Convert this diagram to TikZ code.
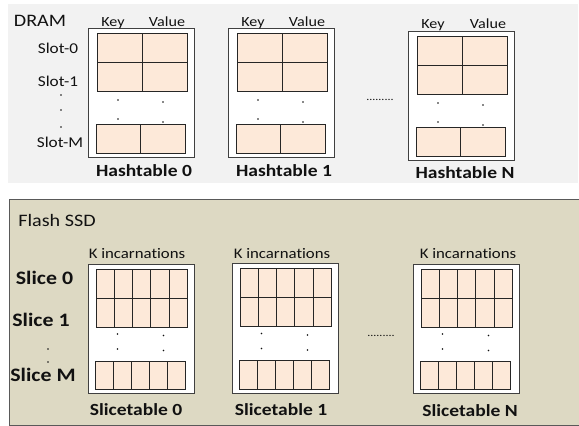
\documentclass[tikz,border=0pt]{standalone}
\usepackage{fontspec}
\setmainfont{Carlito}[FakeStretch=1.15, Ligatures=NoCommon]
\definecolor{dramfill}{HTML}{F2F2F2}
\definecolor{flashfill}{HTML}{DDD9C3}
\definecolor{cellfill}{HTML}{FDE9D9}
\definecolor{boxline}{HTML}{404040}
\definecolor{flashline}{HTML}{595959}
\definecolor{txt}{HTML}{111111}
\tikzset{
  tbox/.style={draw=boxline, fill=white, line width=0.9pt},
  cell/.style={draw=black!85, fill=cellfill, line width=0.9pt},
  cellline/.style={draw=black!85, line width=0.9pt},
  smalltxt/.style={font=\fontsize{14}{15}\selectfont, text=txt, inner sep=0pt, anchor=base},
  slottxt/.style={font=\fontsize{15}{16}\selectfont, text=txt, inner sep=0pt, anchor=base},
  kintxt/.style={font=\fontsize{14.6}{16}\selectfont, text=txt, inner sep=0pt, anchor=base},
  headtxt/.style={font=\fontsize{17.5}{18}\selectfont, text=txt, inner sep=0pt, anchor=base},
  titletxt/.style={font=\bfseries\fontsize{17}{19}\selectfont, text=txt, inner sep=0pt, anchor=base},
  slicetxt/.style={font=\bfseries\fontsize{19}{20}\selectfont, text=txt, inner sep=0pt, anchor=base},
  elltxt/.style={font=\fontsize{10.5}{11}\selectfont, text=txt, inner sep=0pt, anchor=base},
}
\newcommand\hashtab[2]{%
  \begin{scope}[shift={(#1,#2)}]
    \draw[tbox] (0,0) rectangle (106,129);
    \draw[cell] (9,5) rectangle (99,63);
    \draw[cellline] (54,5) -- (54,63) (9,34) -- (99,34);
    \draw[cell] (8,96) rectangle (97,125);
    \draw[cellline] (52,96) -- (52,125);
    \fill[txt] (30,72) circle[radius=0.9pt] (30,91) circle[radius=0.9pt]
               (75,74) circle[radius=0.9pt] (75,94) circle[radius=0.9pt];
  \end{scope}}
\newcommand\slicetab[2]{%
  \begin{scope}[shift={(#1,#2)}]
    \draw[tbox] (0,0) rectangle (106.5,129.5);
    \draw[cell] (8,5) rectangle (99.5,63);
    \draw[cellline] (8,34) -- (99.5,34);
    \foreach \i in {1,...,4} \draw[cellline] ({8+\i*91.5/5},5) -- ({8+\i*91.5/5},63);
    \draw[cell] (7,97) rectangle (97.5,125.5);
    \foreach \i in {1,...,4} \draw[cellline] ({7+\i*90.5/5},97) -- ({7+\i*90.5/5},125.5);
    \fill[txt] (29.5,70) circle[radius=0.9pt] (29.5,85) circle[radius=0.9pt]
               (75.5,71.5) circle[radius=0.9pt] (75.5,86.5) circle[radius=0.9pt];
  \end{scope}}
\begin{document}
\begin{tikzpicture}[x=1pt,y=-1pt]
\useasboundingbox (0,0) rectangle (579,426);
\clip (0,0) rectangle (579,426);
\fill[white] (0,0) rectangle (579,426);
% DRAM region
\fill[dramfill] (8,4) rectangle (578,183);
\node[headtxt] (dram) at (40,26) {DRAM};
\node[slottxt] (slot0) at (58,53) {Slot-0};
\node[slottxt] (slot1) at (58,86) {Slot-1};
\node[slottxt] (slotm) at (60,147) {Slot-M};
\fill[txt] (61,95) circle[radius=0.9pt] (61,110) circle[radius=0.9pt] (61,127) circle[radius=0.9pt];
\hashtab{88}{28}
\hashtab{228}{28}
\hashtab{408}{31}
\node[smalltxt] (key0) at (113,26) {Key};
\node[smalltxt] (val0) at (167,26) {Value};
\node[smalltxt] (key1) at (253,26) {Key};
\node[smalltxt] (val1) at (307,26) {Value};
\node[smalltxt] (keyn) at (433,28) {Key};
\node[smalltxt] (valn) at (488,28) {Value};
\node[titletxt] (ht0) at (144,176) {Hashtable 0};
\node[titletxt] (ht1) at (284,176) {Hashtable 1};
\node[titletxt] (htn) at (465,178) {Hashtable N};
\node[elltxt] (ellA) at (380,100) {.........};
% Flash region
\draw[fill=flashfill, draw=flashline, line width=1pt] (9,199) rectangle (590,425);
\node[headtxt] (flash) at (57,226) {Flash SSD};
\node[slicetxt] (sl0) at (44.5,284) {Slice 0};
\node[slicetxt] (sl1) at (41,326) {Slice 1};
\node[slicetxt] (slm) at (43,381) {Slice M};
\fill[txt] (48,349) circle[radius=0.9pt] (48,362) circle[radius=0.9pt];
\slicetab{88}{264}
\slicetab{232}{263.5}
\slicetab{413}{264}
\node[kintxt] (kin0) at (137,258) {K incarnations};
\node[kintxt] (kin1) at (282,258) {K incarnations};
\node[kintxt] (kinn) at (468,258) {K incarnations};
\node[titletxt] (st0) at (136,415) {Slicetable 0};
\node[titletxt] (st1) at (281,415) {Slicetable 1};
\node[titletxt] (stn) at (470,416) {Slicetable N};
\node[elltxt] (ellB) at (381,336) {.........};
\end{tikzpicture}
\end{document}
